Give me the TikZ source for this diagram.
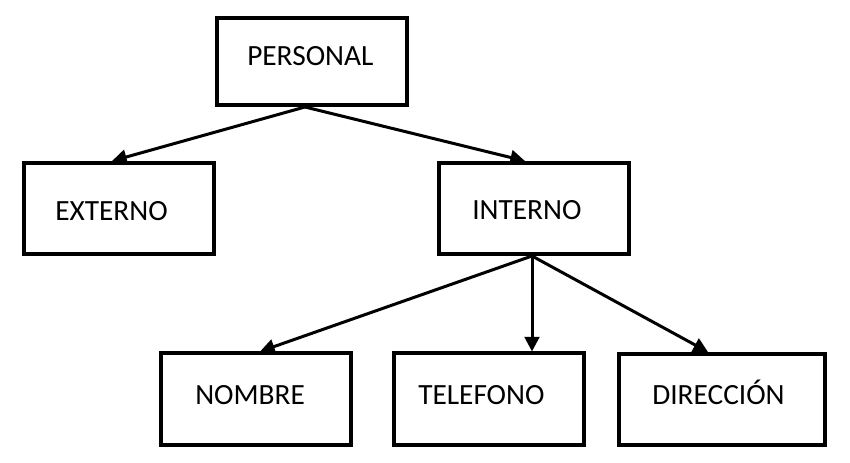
\documentclass[tikz,border=0pt]{standalone}
\usepackage{fontspec}
\setmainfont{Carlito}
\usetikzlibrary{arrows.meta}
\begin{document}
\begin{tikzpicture}[x=0.75pt, y=-0.75pt,
    box/.style={draw, line width=3pt, minimum width=142.5pt, minimum height=68.25pt, inner sep=0pt},
    txt/.style={anchor=base west, inner sep=0pt, font=\fontsize{22}{26}\selectfont},
    link/.style={line width=2.25pt, -{Triangle[length=11pt,width=11pt]}}]
    \useasboundingbox (0,0) rectangle (850,463);

    \node[box, minimum height=65.25pt] (personal) at (311.5,61.5) {};
    \node[box] (externo) at (119,208.5) {};
    \node[box] (interno) at (534,208.5) {};
    \node[box] (nombre) at (255.5,399) {};
    \node[box] (telefono) at (489,399) {};
    \node[box, minimum width=154.5pt] (direccion) at (722,399.5) {};

    \node[txt] (personal-t) at (247,66) {PERSONAL};
    \node[txt] (externo-t) at (55,221) {EXTERNO};
    \node[txt] (interno-t) at (472,220) {INTERNO};
    \node[txt] (nombre-t) at (195,404) {NOMBRE};
    \node[txt] (telefono-t) at (418,404) {TELEFONO};
    \node[txt] (direccion-t) at (652,404) {DIRECCIÓN};

    \draw[link] ([xshift=-4.9pt]personal.south) -- ([xshift=-5.25pt]externo.north);
    \draw[link] ([xshift=-4.9pt]personal.south) -- ([xshift=-6.75pt]interno.north);
    \draw[link] ([xshift=-1.5pt]interno.south) -- ([xshift=3.4pt]nombre.north);
    \draw[link] ([xshift=-1.5pt]interno.south) -- ([xshift=-1.5pt]interno.south |- telefono.north);
    \draw[link] ([xshift=-1.5pt]interno.south) -- ([xshift=-10.5pt]direccion.north);
\end{tikzpicture}
\end{document}
